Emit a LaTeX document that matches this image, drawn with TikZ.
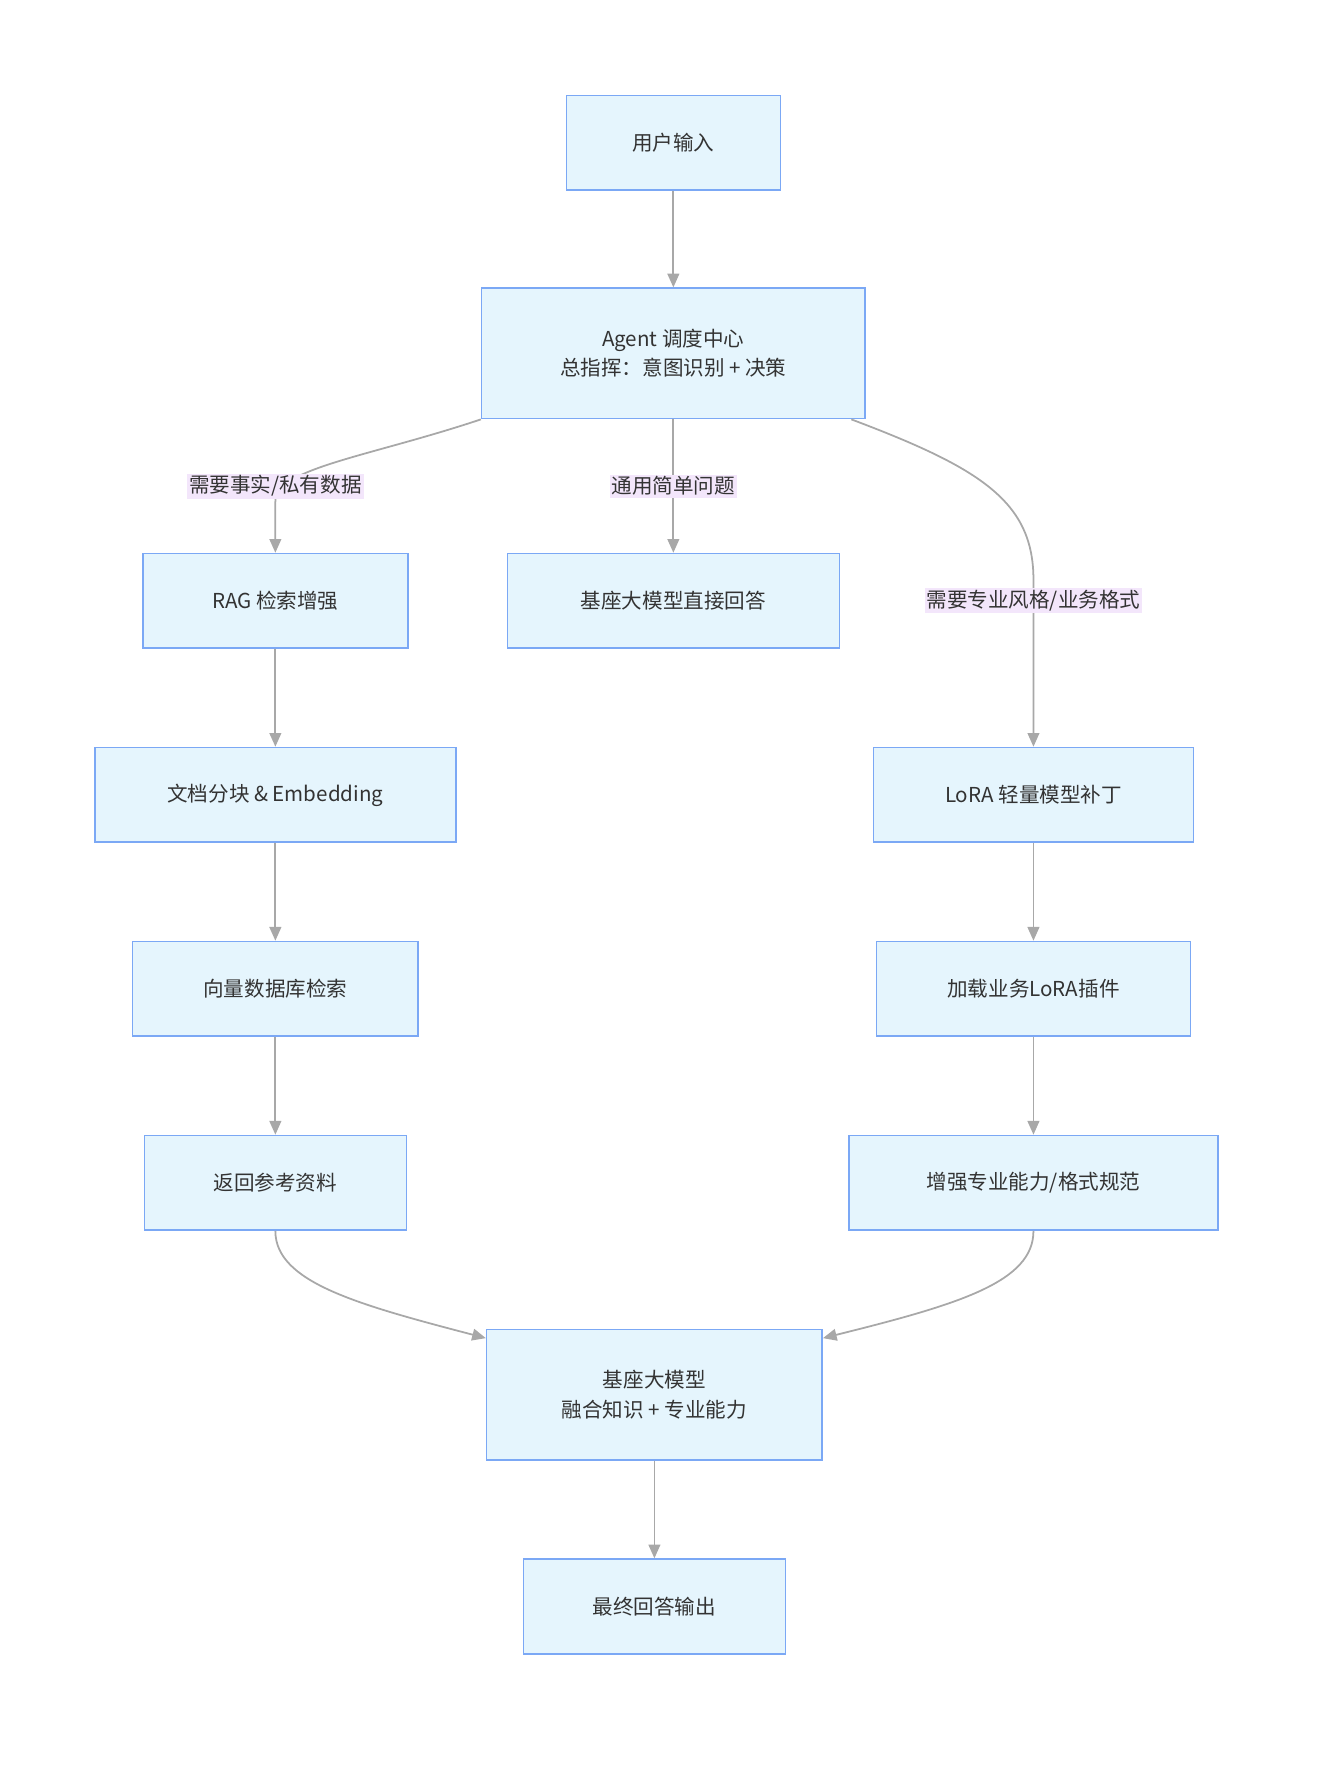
\documentclass[tikz,border=0pt]{standalone}
\usepackage{fontspec}
\setmainfont{Noto Sans CJK SC}
\usetikzlibrary{arrows.meta}
\definecolor{bx}{HTML}{E5F5FD}
\definecolor{bd}{HTML}{7BA8F5}
\definecolor{ln}{HTML}{A8A8A8}
\definecolor{lb}{HTML}{F3E6FB}
\definecolor{tx}{HTML}{333333}
\begin{document}
\begin{tikzpicture}[x=0.02cm,y=-0.02cm,
 box/.style={draw=bd,fill=bx,line width=0.8pt,minimum height=1.7cm,text=tx,font=\fontsize{10.5}{15}\selectfont,align=center,inner sep=0pt},
 lab/.style={fill=lb,text=tx,font=\fontsize{10.5}{13}\selectfont,inner sep=1pt},
 ar/.style={draw=ln,line width=0.9pt,-{Triangle[width=6pt,length=7pt,fill=ln]}}]
\useasboundingbox (0,0) rectangle (1190,1585);
\node[box,minimum width=3.84cm] (u) at (604,128) {用户输入};
\node[box,minimum width=6.88cm,minimum height=2.34cm] (ag) at (604,317) {Agent 调度中心\\总指挥：意图识别 + 决策};
\node[box,minimum width=4.76cm] (rag) at (247,539) {RAG 检索增强};
\node[box,minimum width=5.96cm] (base) at (604,539) {基座大模型直接回答};
\node[box,minimum width=6.48cm] (ch) at (247,713) {文档分块 \& Embedding};
\node[box,minimum width=5.12cm] (vec) at (247,887) {向量数据库检索};
\node[box,minimum width=4.7cm] (ret) at (247,1061) {返回参考资料};
\node[box,minimum width=5.74cm] (lora) at (927,713) {LoRA 轻量模型补丁};
\node[box,minimum width=5.64cm] (load) at (927,887) {加载业务LoRA插件};
\node[box,minimum width=6.62cm] (enh) at (927,1061) {增强专业能力/格式规范};
\node[box,minimum width=6.02cm,minimum height=2.34cm] (fu) at (587,1251) {基座大模型\\融合知识 + 专业能力};
\node[box,minimum width=4.7cm] (fin) at (587,1441) {最终回答输出};
\draw[ar] (u) -- (ag);
\draw[ar] (ag.south west) .. controls (330,410) and (247,420) .. (247,450) -- (rag.north);
\node[lab] at (247,436) {需要事实/私有数据};
\draw[ar] (ag.south) -- (base.north);
\node[lab] at (604,436) {通用简单问题};
\draw[ar] ([xshift=-0.26cm]ag.south east) .. controls (880,420) and (927,450) .. (927,520) -- (lora.north);
\node[lab] at (927,539) {需要专业风格/业务格式};
\draw[ar] (rag) -- (ch);
\draw[ar] (ch) -- (vec);
\draw[ar] (vec) -- (ret);
\draw[ar] (lora) -- (load);
\draw[ar] (load) -- (enh);
\draw[ar] (ret.south) .. controls (247,1150) and (320,1170) .. ([yshift=-0.17cm]fu.north west);
\draw[ar] (enh.south) .. controls (927,1150) and (860,1170) .. ([yshift=-0.17cm]fu.north east);
\draw[ar] (fu) -- (fin);
\end{tikzpicture}
\end{document}
